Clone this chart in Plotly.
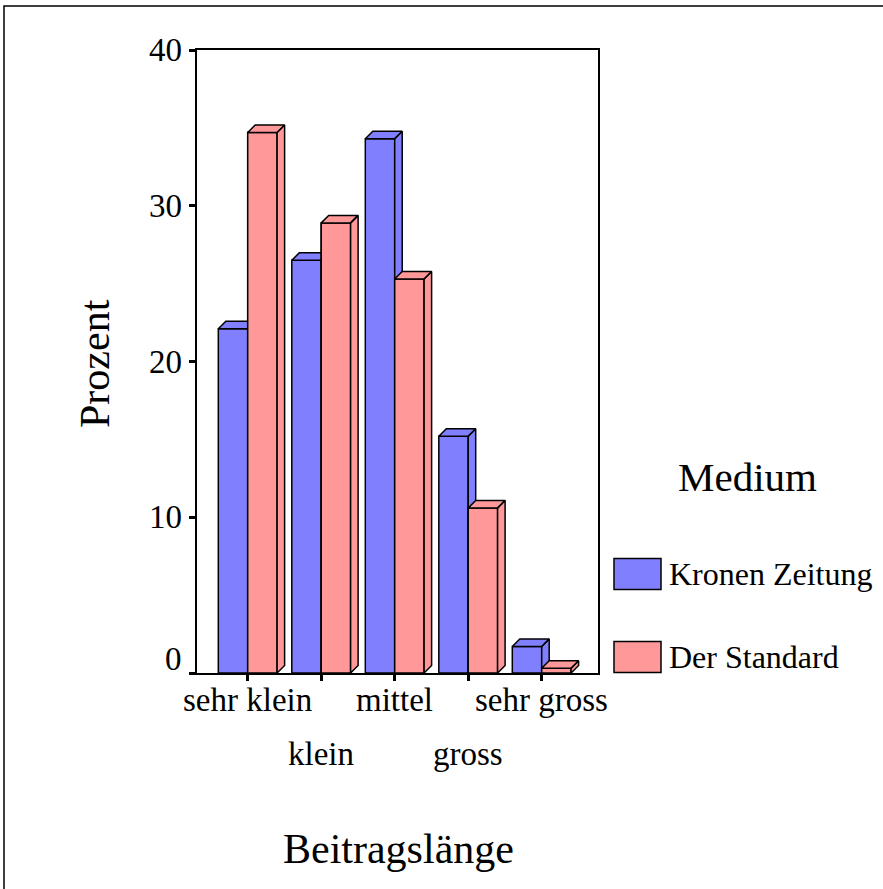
import plotly.graph_objects as go

# Beitragslänge nach Medium (Prozent)
categories = ["sehr klein", "klein", "mittel", "gross", "sehr gross"]
kronen_zeitung = [22.1, 26.5, 34.3, 15.2, 1.7]
der_standard = [34.7, 28.9, 25.3, 10.6, 0.3]
series_names = ["Kronen Zeitung", "Der Standard"]
y_ticks = [0, 10, 20, 30, 40]

BLUE = "#8080FF"
PINK = "#FF9999"
FONT = "Liberation Serif, Times New Roman, serif"

# figure geometry (pixels)
FIG_W, FIG_H = 883, 889
L, R, T, B = 197, 598, 50, 673
W, H = R - L, B - T
X_RANGE = [-0.69, 4.766]
Y_RANGE = [0, 40]
BAR_W = 0.40
DEPTH_PX = 7.5

dx = DEPTH_PX * (X_RANGE[1] - X_RANGE[0]) / W
dy = DEPTH_PX * (Y_RANGE[1] - Y_RANGE[0]) / H


def px_x(p):
    return (p - L) / W


def px_y(p):
    return (B - p) / H


def add_poly(xs, ys, pts):
    for px, py in pts + [pts[0]]:
        xs.append(px)
        ys.append(py)
    xs.append(None)
    ys.append(None)


def clip_above(pts, level):
    """Keep the part of a polygon lying at or above y = level."""
    out = []
    n = len(pts)
    for i in range(n):
        x1, y1 = pts[i]
        x2, y2 = pts[(i + 1) % n]
        in1, in2 = y1 >= level, y2 >= level
        if in1:
            out.append((x1, y1))
        if in1 != in2:
            t = (level - y1) / (y2 - y1)
            out.append((x1 + t * (x2 - x1), level))
    return out


x_pos = list(range(len(categories)))

fig = go.Figure()

# front faces
fig.add_trace(go.Bar(x=x_pos, y=kronen_zeitung, name=series_names[0], width=BAR_W,
                     offset=-BAR_W, marker=dict(color=BLUE, line=dict(color="black", width=1.5)),
                     showlegend=False, hoverinfo="skip"))
fig.add_trace(go.Bar(x=x_pos, y=der_standard, name=series_names[1], width=BAR_W,
                     offset=0, marker=dict(color=PINK, line=dict(color="black", width=1.5)),
                     showlegend=False, hoverinfo="skip"))

# depth faces of the left bars, hidden where the right bar stands in front
bx, by = [], []
for c, hb, hr in zip(x_pos, kronen_zeitung, der_standard):
    x0, x1 = c - BAR_W, c
    top = [(x0, hb), (x0 + dx, hb + dy), (x1 + dx, hb + dy), (x1, hb)]
    side = [(x1, 0), (x1 + dx, dy), (x1 + dx, hb + dy), (x1, hb)]
    if hb >= hr:
        add_poly(bx, by, top)
    else:
        add_poly(bx, by, [(x0, hb), (x0 + dx, hb + dy), (x1, hb + dy), (x1, hb)])
    if hb > hr:
        vis = clip_above(side, hr)
        if len(vis) >= 3:
            add_poly(bx, by, vis)

rx_front, ry_front, rx, ry = [], [], [], []
for c, hr in zip(x_pos, der_standard):
    x0, x1 = c, c + BAR_W
    add_poly(rx_front, ry_front, [(x0, 0), (x0, hr), (x1, hr), (x1, 0)])
    add_poly(rx, ry, [(x0, hr), (x0 + dx, hr + dy), (x1 + dx, hr + dy), (x1, hr)])
    add_poly(rx, ry, [(x1, 0), (x1 + dx, dy), (x1 + dx, hr + dy), (x1, hr)])

for xs, ys, col in [(bx, by, BLUE), (rx_front, ry_front, PINK), (rx, ry, PINK)]:
    fig.add_trace(go.Scatter(x=xs, y=ys, mode="lines", fill="toself", fillcolor=col,
                             line=dict(color="black", width=1.5), showlegend=False,
                             hoverinfo="skip"))

annotations = []
# x tick labels, staggered on two rows
for i, cat in enumerate(categories):
    row_y = 700 if i % 2 == 0 else 754
    annotations.append(dict(x=i, xref="x", y=px_y(row_y), yref="paper", text=cat,
                            showarrow=False, xanchor="center", yanchor="middle",
                            font=dict(family=FONT, size=33, color="black")))
# y tick labels
for v in y_ticks:
    annotations.append(dict(x=0, xref="paper", y=v, yref="y", text=str(v),
                            showarrow=False, xanchor="right", yanchor="middle",
                            xshift=-13, yshift=14 if v == 0 else 0,
                            font=dict(family=FONT, size=33, color="black")))
# axis titles
annotations.append(dict(x=px_x(95), xref="paper", y=px_y(364), yref="paper", text="Prozent",
                        textangle=-90, showarrow=False, xanchor="center", yanchor="middle",
                        font=dict(family=FONT, size=42, color="black")))
annotations.append(dict(x=px_x(398), xref="paper", y=px_y(849), yref="paper",
                        text="Beitragslänge", showarrow=False, xanchor="center",
                        yanchor="middle", font=dict(family=FONT, size=42, color="black")))
# legend
annotations.append(dict(x=px_x(747), xref="paper", y=px_y(477), yref="paper", text="Medium",
                        showarrow=False, xanchor="center", yanchor="middle",
                        font=dict(family=FONT, size=41, color="black")))
shapes = []
for name, col, cy in zip(series_names, [BLUE, PINK], [574, 657]):
    shapes.append(dict(type="rect", xref="paper", yref="paper",
                       x0=px_x(614), x1=px_x(661), y0=px_y(cy - 15.5), y1=px_y(cy + 15.5),
                       fillcolor=col, line=dict(color="black", width=1.5)))
    annotations.append(dict(x=px_x(667), xref="paper", y=px_y(cy), yref="paper", text=name,
                            showarrow=False, xanchor="left", yanchor="middle",
                            font=dict(family=FONT, size=32, color="black")))

# outer frame
shapes.append(dict(type="rect", xref="paper", yref="paper", x0=px_x(4), y0=px_y(6),
                   x1=px_x(FIG_W + 10), y1=px_y(FIG_H + 10),
                   line=dict(color="black", width=1.5), fillcolor="rgba(0,0,0,0)"))

axis_common = dict(showgrid=False, zeroline=False, showline=True, linecolor="black",
                   linewidth=1.5, mirror=True, ticks="outside", ticklen=6, tickwidth=3,
                   tickcolor="black", showticklabels=False)

fig.update_layout(
    width=FIG_W, height=FIG_H,
    margin=dict(l=L, r=FIG_W - R, t=T, b=FIG_H - B, pad=0),
    paper_bgcolor="white", plot_bgcolor="white",
    barmode="overlay", showlegend=False,
    xaxis=dict(range=X_RANGE, tickvals=x_pos, **axis_common),
    yaxis=dict(range=Y_RANGE, tickvals=y_ticks, **axis_common),
    annotations=annotations, shapes=shapes,
    font=dict(family=FONT, color="black"),
)

fig.write_html("out.html")
